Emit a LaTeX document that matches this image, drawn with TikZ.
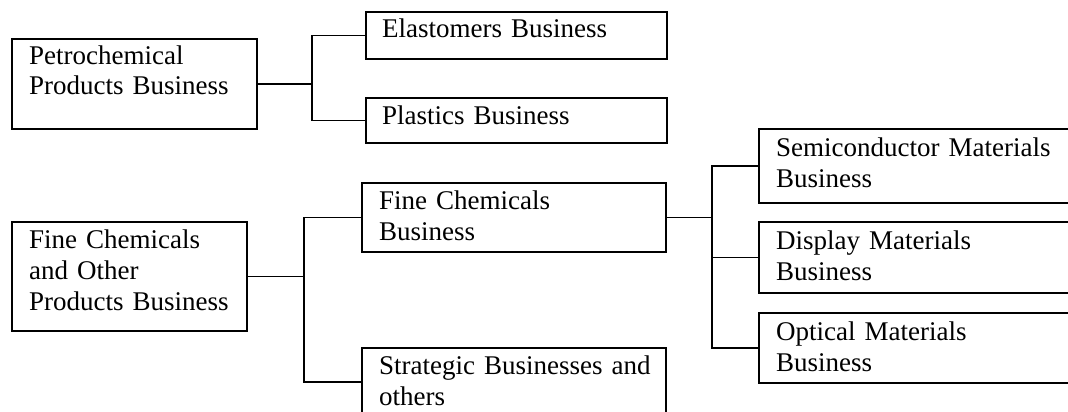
\documentclass[tikz,border=0pt]{standalone}
\usepackage{fontspec}
\setmainfont{Liberation Serif}
\begin{document}
\begin{tikzpicture}[x=1pt,y=-1pt,
  box/.style={draw=black,line width=1.8pt,inner sep=0pt,outer sep=0pt,anchor=north west,rectangle},
  lbl/.style={inner sep=0pt,anchor=base west,text width=320pt,align=left,font=\fontsize{27}{31}\selectfont},
  conn/.style={draw=black,line width=1.8pt}]
\useasboundingbox (0,0) rectangle (1068,412);
\clip (0,0) rectangle (1068,412);
% boxes
\node[box,minimum width=245pt,minimum height=90pt] (petro) at (12,39) {};
\node[box,minimum width=301pt,minimum height=47pt] (elast) at (366,12) {};
\node[box,minimum width=301pt,minimum height=45pt] (plast) at (366,98) {};
\node[box,minimum width=235pt,minimum height=109pt] (fineo) at (12,222) {};
\node[box,minimum width=304pt,minimum height=69pt] (finec) at (362,183) {};
\node[box,minimum width=304pt,minimum height=68pt] (strat) at (362,348) {};
\node[box,minimum width=330pt,minimum height=74pt] (semi) at (759,129) {};
\node[box,minimum width=330pt,minimum height=71pt] (disp) at (759,222) {};
\node[box,minimum width=330pt,minimum height=70pt] (opt) at (759,313) {};
% labels
\node[lbl] (tpetro) at ([shift={(17,25)}]petro.north west) {Petrochemical\\Products Business};
\node[lbl] (telast) at ([shift={(16,26)}]elast.north west) {Elastomers Business};
\node[lbl] (tplast) at ([shift={(16,26)}]plast.north west) {Plastics Business};
\node[lbl] (tfineo) at ([shift={(17,26)}]fineo.north west) {Fine Chemicals\\and Other\\Products Business};
\node[lbl] (tfinec) at ([shift={(17,26)}]finec.north west) {Fine Chemicals\\Business};
\node[lbl] (tstrat) at ([shift={(17,26)}]strat.north west) {Strategic Businesses and\\others};
\node[lbl] (tsemi) at ([shift={(17,27)}]semi.north west) {Semiconductor Materials\\Business};
\node[lbl] (tdisp) at ([shift={(17,27)}]disp.north west) {Display Materials\\Business};
\node[lbl] (topt) at ([shift={(17,27)}]opt.north west) {Optical Materials\\Business};
% junctions
\coordinate (j1) at (312,0 |- petro.east);
\coordinate (j2) at (304,0 |- fineo.east);
\coordinate (j3) at (712,0 |- finec.east);
% connectors
\draw[conn] (petro.east) -- (j1);
\draw[conn] (j1) |- (elast.west);
\draw[conn] (j1) |- (plast.west);
\draw[conn] (fineo.east) -- (j2);
\draw[conn] (j2) |- (finec.west);
\draw[conn] (j2) |- (strat.west);
\draw[conn] (finec.east) -- (j3);
\draw[conn] (j3) |- (semi.west);
\draw[conn] (j3) |- (disp.west);
\draw[conn] (j3) |- (opt.west);
\end{tikzpicture}
\end{document}
